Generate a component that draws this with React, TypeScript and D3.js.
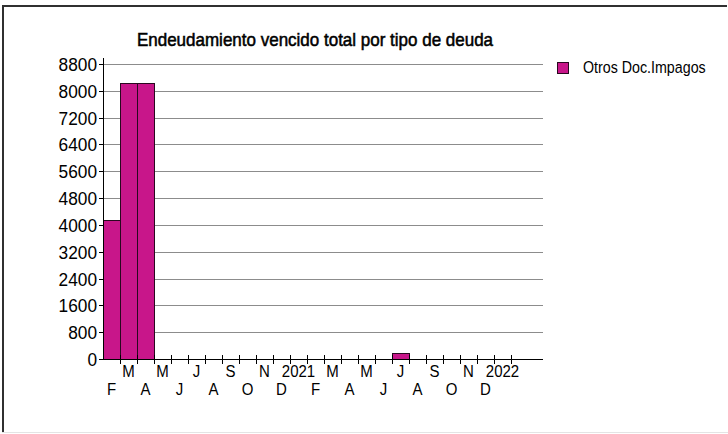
import React, { useEffect, useRef } from 'react';
import * as d3 from 'd3';

const title = 'Endeudamiento vencido total por tipo de deuda';
const seriesName = 'Otros Doc.Impagos';
// Feb 2020 .. Jan 2022
const months = [
  '2020-02', '2020-03', '2020-04', '2020-05', '2020-06', '2020-07', '2020-08', '2020-09',
  '2020-10', '2020-11', '2020-12', '2021-01', '2021-02', '2021-03', '2021-04', '2021-05',
  '2021-06', '2021-07', '2021-08', '2021-09', '2021-10', '2021-11', '2021-12', '2022-01',
];
const monthLabels = [
  'F', 'M', 'A', 'M', 'J', 'J', 'A', 'S', 'O', 'N', 'D', '2021',
  'F', 'M', 'A', 'M', 'J', 'J', 'A', 'S', 'O', 'N', 'D', '2022',
];
const values = [4150, 8230, 8230, 0, 0, 0, 0, 0, 0, 0, 0, 0, 0, 0, 0, 0, 0, 180, 0, 0, 0, 0, 0, 0];
const yTicks = [0, 800, 1600, 2400, 3200, 4000, 4800, 5600, 6400, 7200, 8000, 8800];

const FONT = "'Liberation Sans', Arial, sans-serif";
const BAR = '#c8168a';

export default function App() {
  const ref = useRef<SVGSVGElement>(null);

  useEffect(() => {
    const svg = d3.select(ref.current);
    svg.selectAll('*').remove();
    const W = 728, H = 434;
    const left = 103, right = 543, top = 64, bottom = 359;

    svg.append('rect').attr('width', W).attr('height', H).attr('fill', '#fff');
    // frame
    svg.append('line').attr('x1', 3).attr('x2', 3).attr('y1', 5).attr('y2', 433).attr('stroke', '#303030').attr('stroke-width', 2);
    svg.append('line').attr('x1', 2).attr('x2', 727).attr('y1', 6).attr('y2', 6).attr('stroke', '#303030').attr('stroke-width', 2);
    svg.append('line').attr('x1', 2).attr('x2', 728).attr('y1', 432.5).attr('y2', 432.5).attr('stroke', '#e4e4e4');

    const x = d3.scaleBand().domain(months).range([left, left + 17 * months.length]).padding(0);
    const y = d3.scaleLinear().domain([0, 8800]).range([bottom, top]);

    // grid
    svg.append('g').selectAll('line').data(yTicks.filter(d => d > 0)).enter().append('line')
      .attr('x1', left).attr('x2', right)
      .attr('y1', d => Math.round(y(d)) + 0.5).attr('y2', d => Math.round(y(d)) + 0.5)
      .attr('stroke', '#8c8c8c');

    // bars
    const data = months.map((m, i) => ({ m, v: values[i] })).filter(d => d.v > 0);
    svg.append('g').selectAll('rect').data(data).enter().append('rect')
      .attr('x', d => Math.round(x(d.m)!) + 0.5)
      .attr('y', d => Math.round(y(d.v)) + 0.5)
      .attr('width', x.bandwidth())
      .attr('height', d => Math.round(bottom - y(d.v)))
      .attr('fill', BAR).attr('stroke', '#2a0820');

    // y axis
    const ya = svg.append('g');
    ya.append('line').attr('x1', left + 0.5).attr('x2', left + 0.5).attr('y1', top - 6).attr('y2', bottom).attr('stroke', '#000');
    const yt = ya.selectAll('g').data(yTicks).enter().append('g')
      .attr('transform', d => `translate(0,${Math.round(y(d)) + 0.5})`);
    yt.append('line').attr('x1', left - 4).attr('x2', left).attr('stroke', '#000');
    yt.append('text').attr('transform', `translate(${left - 6},0) scale(1.08,1.12)`).attr('dy', '0.36em').attr('text-anchor', 'end')
      .style('font', `16px ${FONT}`).attr('fill', '#000').text(d => String(d));

    // x axis
    const xa = svg.append('g');
    xa.append('line').attr('x1', left).attr('x2', right).attr('y1', bottom + 0.5).attr('y2', bottom + 0.5).attr('stroke', '#000');
    xa.selectAll('line.tick').data(months).enter().append('line').attr('class', 'tick')
      .attr('x1', d => Math.round(x(d)! + x.bandwidth()) + 0.5)
      .attr('x2', d => Math.round(x(d)! + x.bandwidth()) + 0.5)
      .attr('y1', bottom - 4).attr('y2', bottom + 5).attr('stroke', '#000');
    xa.selectAll('text').data(months).enter().append('text')
      .attr('transform', (d, i) => `translate(${x(d)! + x.bandwidth() / 2},${i % 2 === 1 ? 377 : 395}) scale(1,1.08)`)
      .attr('text-anchor', 'middle')
      .style('font', `15px ${FONT}`).attr('fill', '#000')
      .text((d, i) => monthLabels[i]);

    // title
    svg.append('text').attr('transform', 'translate(315,46) scale(1,1.1)').attr('text-anchor', 'middle')
      .style('font', `17px ${FONT}`).attr('fill', '#000')
      .attr('stroke', '#000').attr('stroke-width', 0.5).text(title);

    // legend
    svg.append('rect').attr('x', 557.5).attr('y', 62.5).attr('width', 11).attr('height', 11)
      .attr('fill', BAR).attr('stroke', '#2a0820');
    svg.append('text').attr('transform', 'translate(583,73) scale(0.95,1.1)')
      .style('font', `15px ${FONT}`).attr('fill', '#000').text(seriesName);
  }, []);

  return (
    <svg ref={ref} width={728} height={434}
      style={{ position: 'absolute', left: 0, top: 0, display: 'block' }} />
  );
}
